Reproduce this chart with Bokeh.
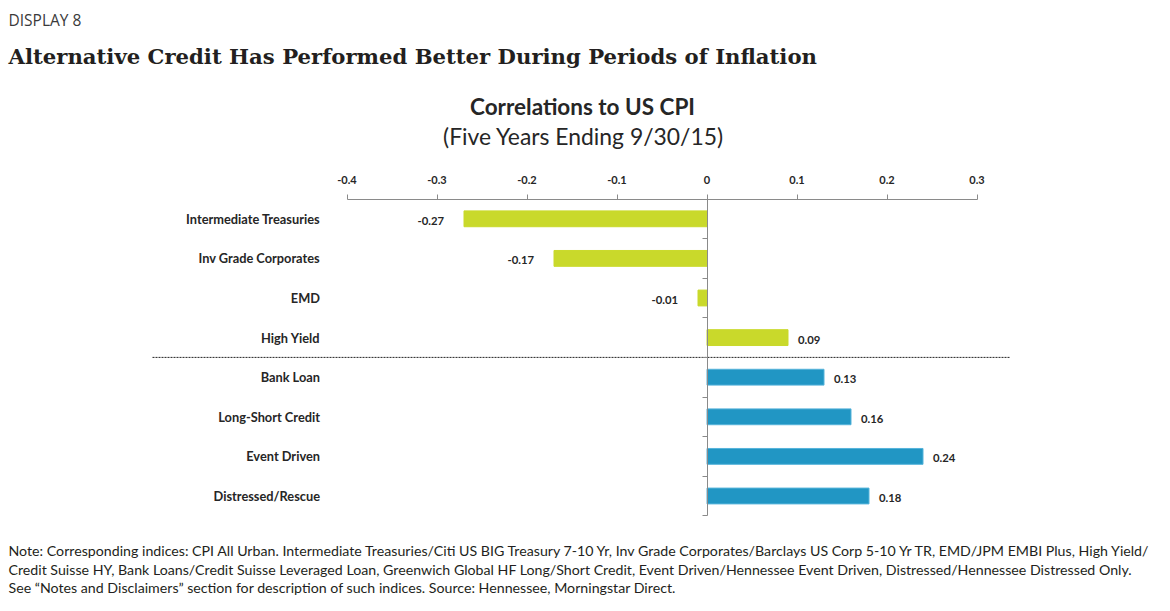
from bokeh.plotting import figure
from bokeh.models import Range1d, FixedTicker, ColumnDataSource
from bokeh.core.properties import value
from bokeh.embed import file_html
from bokeh.resources import INLINE

# ---------------- data ----------------
categories = ["Intermediate Treasuries", "Inv Grade Corporates", "EMD", "High Yield",
              "Bank Loan", "Long-Short Credit", "Event Driven", "Distressed/Rescue"]
correlations = [-0.27, -0.17, -0.01, 0.09, 0.13, 0.16, 0.24, 0.18]
groups = ["Traditional", "Traditional", "Traditional", "Traditional",
          "Alternative", "Alternative", "Alternative", "Alternative"]
x_ticks = [-0.4, -0.3, -0.2, -0.1, 0.0, 0.1, 0.2, 0.3]
x_tick_labels = ["-0.4", "-0.3", "-0.2", "-0.1", "0", "0.1", "0.2", "0.3"]

display_label = "DISPLAY 8"
headline = "Alternative Credit Has Performed Better During Periods of Inflation"
chart_title = "Correlations to US CPI"
chart_subtitle = "(Five Years Ending 9/30/15)"
note_lines = [
    "Note: Corresponding indices: CPI All Urban. Intermediate Treasuries/Citi US BIG Treasury 7-10 Yr, Inv Grade Corporates/Barclays US Corp 5-10 Yr TR, EMD/JPM EMBI Plus, High Yield/",
    "Credit Suisse HY, Bank Loans/Credit Suisse Leveraged Loan, Greenwich Global HF Long/Short Credit, Event Driven/Hennessee Event Driven, Distressed/Hennessee Distressed Only.",
    "See \u201cNotes and Disclaimers\u201d section for description of such indices. Source: Hennessee, Morningstar Direct.",
]

# ---------------- layout ----------------
W, H = 1154, 595
PX_PER_UNIT = 900.0          # pixels per 1.0 correlation
ZERO_X = 706.5               # canvas x of correlation 0
AXIS_Y = 198.5               # canvas y of the top axis line
ROW_PX = 39.6                # pixels per category row


def dx(px):
    return (px - ZERO_X) / PX_PER_UNIT


def dy(py):
    return (py - AXIS_Y) / ROW_PX


GREEN = "#c9d92b"
BLUE = "#2196c4"
BLUE_EDGE = "#55b3da"
TEXT = "#262626"
AXIS = "#8a8a8a"
FONT = "Lato"

p = figure(width=W, height=H, output_backend="svg", toolbar_location=None,
           x_range=Range1d(dx(0), dx(W)), y_range=Range1d(dy(H), dy(0)),
           x_axis_location="above", y_axis_location="left",
           min_border_left=0, min_border_right=0, min_border_bottom=0,
           min_border_top=0)
p.outline_line_color = None
p.xgrid.visible = False
p.ygrid.visible = False
p.background_fill_color = "white"
p.border_fill_color = "white"

# top axis (drawn at the top of the category rows)
xa = p.xaxis[0]
xa.fixed_location = 0
xa.ticker = FixedTicker(ticks=x_ticks)
xa.major_label_overrides = {t: l for t, l in zip(x_ticks, x_tick_labels)}
xa.bounds = (min(x_ticks), max(x_ticks))
xa.axis_line_color = AXIS
xa.major_tick_line_color = AXIS
xa.major_tick_out = 5
xa.major_tick_in = 0
xa.minor_tick_line_color = None
xa.major_label_text_font = FONT
xa.major_label_text_font_style = "bold"
xa.major_label_text_font_size = "11px"
xa.major_label_text_color = TEXT
xa.major_label_standoff = 10

# vertical axis at zero (tick marks at the row boundaries, no labels)
n = len(categories)
ya = p.yaxis[0]
ya.fixed_location = 0
ya.ticker = FixedTicker(ticks=list(range(n + 1)))
ya.major_label_overrides = {i: "" for i in range(n + 1)}
ya.bounds = (0, n)
ya.axis_line_color = AXIS
ya.major_tick_line_color = AXIS
ya.major_tick_out = 5
ya.major_tick_in = 0
ya.minor_tick_line_color = None

pos = [i + 0.5 for i in range(n)]
src = ColumnDataSource(dict(
    cat=categories,
    val=correlations,
    pos=pos,
    fill=[GREEN if g == "Traditional" else BLUE for g in groups],
    edge=[GREEN if g == "Traditional" else BLUE_EDGE for g in groups],
    lab=["%.2f" % v for v in correlations],
    align=["right" if v < 0 else "left" for v in correlations],
    xoff=[-20 if v < 0 else 10 for v in correlations],
))

p.hbar(y="pos", left=0, right="val", height=0.4, source=src,
       fill_color="fill", line_color="edge", line_width=1)

p.text(x="val", y="pos", text="lab", source=src, x_offset="xoff", y_offset=2,
       text_align="align", text_baseline="middle", text_font=value(FONT),
       text_font_style="bold", text_font_size="11.3px", text_color=TEXT)

p.text(x=min(x_ticks), y="pos", text="cat", source=src, x_offset=-27,
       text_align="right", text_baseline="middle", text_font=value(FONT),
       text_font_style="bold", text_font_size="12.8px", text_color=TEXT)

# separator between traditional and alternative credit
n_trad = groups.count("Traditional")
p.segment(x0=dx(152), x1=dx(1010), y0=n_trad, y1=n_trad,
          line_color="#222222", line_width=1, line_dash="2 1")


def put(text, px, py, size, font=FONT, style="normal", align="left",
        color=TEXT, baseline="middle"):
    p.text(x=[dx(px)], y=[dy(py)], text=[text], text_font=value(font),
           text_font_style=style, text_font_size=size, text_color=color,
           text_align=align, text_baseline=baseline)


put(display_label, 8, 19, "15.5px", font="Open Sans", color="#3a3a3a")
put(headline, 8, 55.5, "21.2px", font="DejaVu Serif", style="bold",
    color="#231f20")
put(chart_title, 582, 106, "22.5px", style="bold", align="center")
put(chart_subtitle, 583, 135, "22.9px", align="center")
for i, line in enumerate(note_lines):
    put(line, 8, 550 + 18.5 * i, "14.2px", color="#231f20")

open("out.html", "w").write(file_html(p, INLINE))
